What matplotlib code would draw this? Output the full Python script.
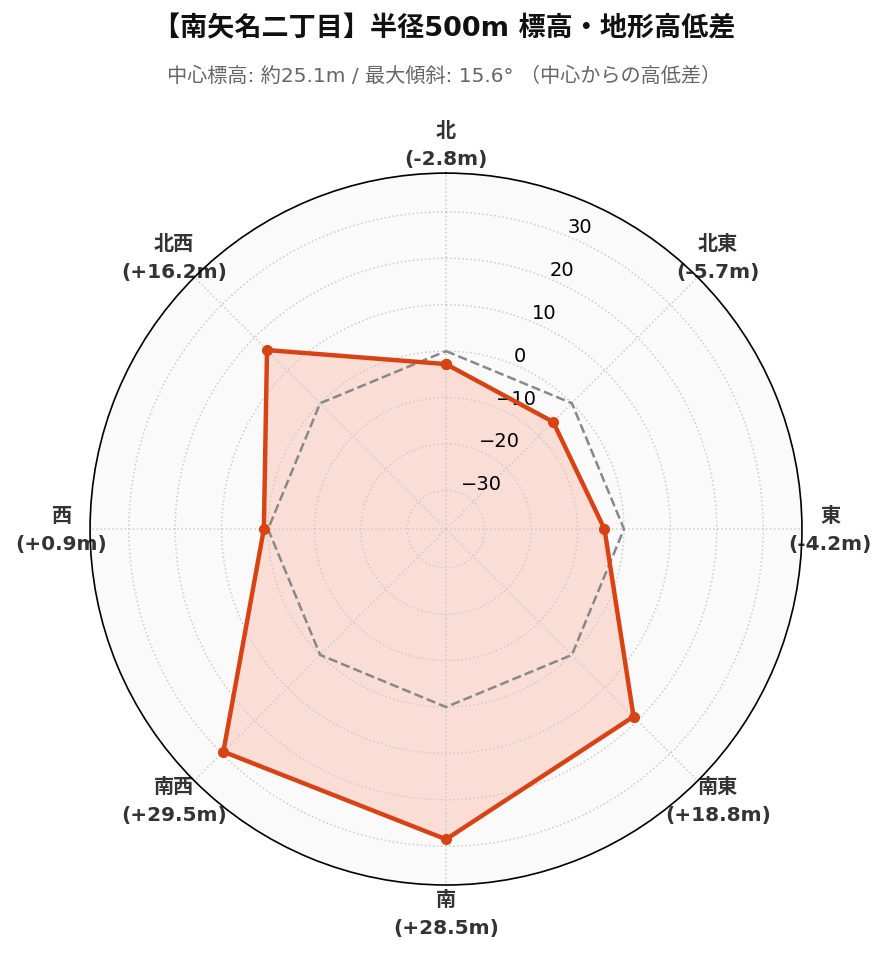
import matplotlib
matplotlib.use("Agg")
import matplotlib.pyplot as plt
import numpy as np

plt.rcParams['font.family'] = ['DejaVu Sans', 'Noto Sans CJK JP']

# 方角と中心からの高低差 (m)
directions = ["北", "北東", "東", "南東", "南", "南西", "西", "北西"]
diffs = [-2.8, -5.7, -4.2, 18.8, 28.5, 29.5, 0.9, 16.2]
rticks = [-30, -20, -10, 0, 10, 20, 30]

title = "【南矢名二丁目】半径500m 標高・地形高低差"
subtitle = "中心標高: 約25.1m / 最大傾斜: 15.6° （中心からの高低差）"

line_color = "#d84315"
fill_color = "#ff7043"

angles = np.linspace(0, 2 * np.pi, len(directions), endpoint=False)
theta = np.append(angles, angles[0])
vals = np.append(diffs, diffs[0])
lim = max(abs(v) for v in diffs) * 1.3

fig = plt.figure(figsize=(8.89, 9.62), dpi=100)
ax = fig.add_axes([0.1012, 0.079, 0.801, 0.740], projection="polar")
ax.set_theta_zero_location("N")
ax.set_theta_direction(-1)
ax.set_facecolor("#fafafa")

ax.fill(theta, vals, color=fill_color, alpha=0.2, lw=0, zorder=1)
ax.plot(theta, np.zeros_like(theta), "--", color="#888888", lw=1.8, zorder=3)
ax.plot(theta, vals, "-o", color=line_color, lw=3.2, ms=7, zorder=4)

ax.set_ylim(-lim, lim)
ax.set_yticks(rticks)
ax.set_yticklabels([f"{t}".replace("-", "\u2212") for t in rticks],
                   fontsize=14, family="DejaVu Sans")
ax.set_rlabel_position(22.5)

ax.set_xticks(angles)
ax.set_xticklabels([f"{d}\n({v:+.1f}m)" for d, v in zip(directions, diffs)],
                   fontsize=14.5, fontweight="bold", color="#333333", linespacing=1.6)
ax.tick_params(axis="x", pad=10)
ax.grid(True, color="#cccccc", linestyle=":", lw=1.1)
ax.spines["polar"].set_color("black")
ax.spines["polar"].set_linewidth(1.2)

fig.text(0.5, 0.970, title, ha="center", va="center", fontsize=19.5, fontweight="bold", color="#111111")
fig.text(0.5, 0.921, subtitle, ha="center", va="center", fontsize=14.5, color="#666666")

fig.savefig("out.png", dpi=100)
